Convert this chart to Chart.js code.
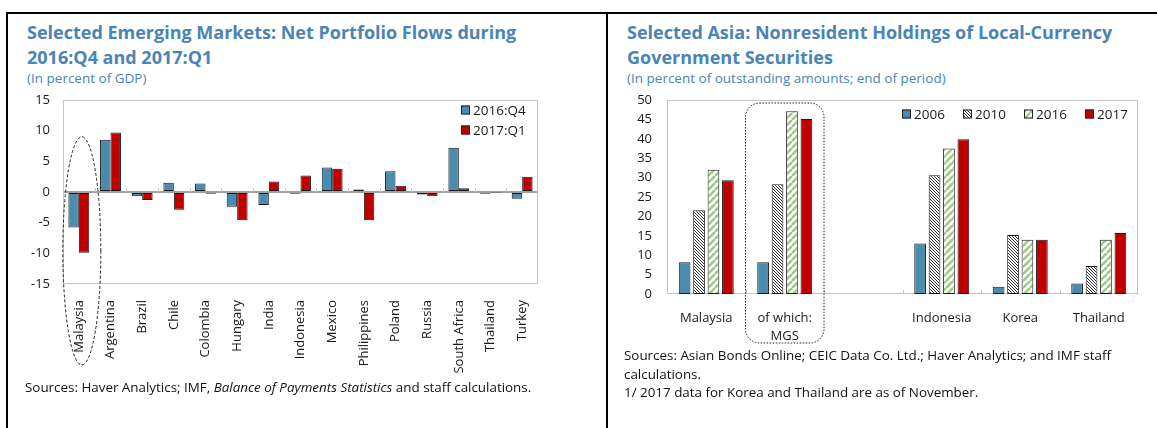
<!DOCTYPE html>
<html>
<head>
<meta charset="utf-8">
<script src="https://cdn.jsdelivr.net/npm/chart.js@4.4.1/dist/chart.umd.min.js"></script>
<style>
body { margin: 0; width: 1157px; height: 428px; background: #fff; position: relative; overflow: hidden; font-family: "Open Sans", sans-serif; }
.rule { position: absolute; background: #000; }
.title { position: absolute; color: #4a84b4; font-weight: 700; font-size: 18px; line-height: 25px; white-space: nowrap; }
.sub { position: absolute; color: #4a84b4; font-size: 13.5px; white-space: nowrap; }
.src { position: absolute; color: #111; font-size: 13.4px; line-height: 18.5px; white-space: nowrap; }
canvas { position: absolute; }
</style>
</head>
<body>
<div class="rule" style="left:6px;top:12px;width:1151px;height:2px"></div>
<div class="rule" style="left:6px;top:12px;width:2px;height:416px"></div>
<div class="rule" style="left:606px;top:12px;width:2px;height:416px"></div>

<div class="title" style="left:27px;top:20px">Selected Emerging Markets: Net Portfolio Flows during<br>2016:Q4 and 2017:Q1</div>
<div class="sub" style="left:27px;top:69px">(In percent of GDP)</div>
<canvas id="emChart" width="590" height="290" style="left:10px;top:92px"></canvas>
<div class="src" style="left:25px;top:378px">Sources: Haver Analytics; IMF, <i>Balance of Payments Statistics</i> and staff calculations.</div>

<div class="title" style="left:627px;top:20px">Selected Asia: Nonresident Holdings of Local-Currency<br>Government Securities</div>
<div class="sub" style="left:627px;top:69px">(In percent of outstanding amounts; end of period)</div>
<canvas id="asiaChart" width="540" height="262" style="left:610px;top:92px"></canvas>
<div class="src" style="left:624px;top:346px">Sources: Asian Bonds Online; CEIC Data Co. Ltd.; Haver Analytics; and IMF staff<br>calculations.<br>1/ 2017 data for Korea and Thailand are as of November.</div>

<script>
// left panel
const emCountries = ['Malaysia', 'Argentina', 'Brazil', 'Chile', 'Colombia', 'Hungary', 'India', 'Indonesia',
    'Mexico', 'Philippines', 'Poland', 'Russia', 'South Africa', 'Thailand', 'Turkey'];
const flows2016Q4 = [-5.8, 8.5, -0.7, 1.5, 1.4, -2.4, -2.1, -0.3, 4.0, 0.4, 3.4, -0.4, 7.2, -0.3, -1.1];
const flows2017Q1 = [-9.9, 9.7, -1.3, -2.9, -0.3, -4.6, 1.7, 2.7, 3.8, -4.6, 1.0, -0.7, 0.6, -0.1, 2.5];
const emTicks = [-15, -10, -5, 0, 5, 10, 15];

// right panel
const asiaCategories = ['Malaysia', ['of which:', 'MGS'], '', 'Indonesia', 'Korea', 'Thailand'];
const hold2006 = [8.2, 8.2, null, 13.0, 1.9, 2.7];
const hold2010 = [21.6, 28.3, null, 30.6, 15.2, 7.2];
const hold2016 = [32.0, 47.1, null, 37.5, 14.0, 14.0];
const hold2017 = [29.3, 45.1, null, 39.9, 14.0, 15.7];
const asiaTicks = [0, 5, 10, 15, 20, 25, 30, 35, 40, 45, 50];

const blue = '#4a8bb0';
const red = '#c00000';
const tickFont = { family: 'Open Sans', size: 13 };
const textColor = '#1a1a1a';

function hatch(fg, size, width, slash) {
    let c = document.createElement('canvas');
    c.width = size;
    c.height = size;
    let g = c.getContext('2d');
    g.fillStyle = '#fff';
    g.fillRect(0, 0, size, size);
    g.strokeStyle = fg;
    g.lineWidth = width;
    g.beginPath();
    for (let k = -1; k <= 1; k++) {
        if (slash) {
            g.moveTo(k * size, size);
            g.lineTo(k * size + size, 0);
        } else {
            g.moveTo(k * size, 0);
            g.lineTo(k * size + size, size);
        }
    }
    g.stroke();
    return g.createPattern(c, 'repeat');
}

// grey frame round the plot + small category ticks
const framePlugin = {
    id: 'frame',
    beforeDatasetsDraw(chart, args, opts) {
        const { ctx, chartArea: a, scales } = chart;
        ctx.save();
        ctx.strokeStyle = '#c4c4c4';
        ctx.lineWidth = 1;
        ctx.strokeRect(a.left + 0.5, a.top + 0.5, a.right - a.left - 1, a.bottom - a.top - 1);
        let y0 = scales.y.getPixelForValue(opts.tickAt);
        let n = chart.data.labels.length;
        ctx.beginPath();
        for (let i = 0; i < n - 1; i++) {
            let x = Math.round((scales.x.getPixelForValue(i) + scales.x.getPixelForValue(i + 1)) / 2) + 0.5;
            ctx.moveTo(x, y0);
            ctx.lineTo(x, y0 - 4);
        }
        ctx.stroke();
        ctx.restore();
    }
};

const boxLegend = {
    id: 'boxLegend',
    afterDraw(chart, args, opts) {
        const { ctx, chartArea: a } = chart;
        ctx.save();
        ctx.font = '13.5px "Open Sans"';
        ctx.textBaseline = 'middle';
        chart.data.datasets.forEach((ds, i) => {
            let x = a.right + opts.x + i * opts.dx;
            let y = a.top + opts.y + i * opts.dy;
            ctx.fillStyle = ds.backgroundColor;
            ctx.fillRect(x, y - 4.5, 9, 9);
            ctx.strokeStyle = '#222';
            ctx.lineWidth = 1;
            ctx.strokeRect(x + 0.5, y - 4, 8, 8);
            ctx.fillStyle = textColor;
            ctx.fillText(ds.label, x + 12, y + 1);
        });
        ctx.restore();
    }
};

const highlight = {
    id: 'highlight',
    afterDatasetsDraw(chart, args, opts) {
        const { ctx, chartArea: a, scales } = chart;
        let step = scales.x.getPixelForValue(1) - scales.x.getPixelForValue(0);
        let cx = scales.x.getPixelForValue(opts.index);
        ctx.save();
        ctx.strokeStyle = '#222';
        ctx.lineWidth = 1;
        ctx.setLineDash(opts.dash);
        ctx.beginPath();
        if (opts.shape === 'ellipse') {
            let top = scales.y.getPixelForValue(9);
            let bottom = a.bottom + 81;
            ctx.ellipse(cx + 3, (top + bottom) / 2, step * 0.6, (bottom - top) / 2, 0, 0, Math.PI * 2);
        } else {
            ctx.roundRect(cx - step / 2, a.top + 3, step, a.bottom + 49 - a.top - 3, 14);
        }
        ctx.stroke();
        ctx.restore();
    }
};

function barSet(label, data, color) {
    return { label: label, data: data, backgroundColor: color, borderColor: '#1a1a1a', borderWidth: 1, borderSkipped: false };
}

function fixY(width) {
    return s => {
        s.width = width;
        s.paddingTop = 0;
        s.paddingBottom = 0;
    };
}

new Chart(document.querySelector('#emChart'), {
    type: 'bar',
    data: {
        labels: emCountries,
        datasets: [
            barSet('2016:Q4', flows2016Q4, blue),
            barSet('2017:Q1', flows2017Q1, red)
        ]
    },
    options: {
        responsive: false,
        animation: false,
        categoryPercentage: 0.66,
        barPercentage: 1,
        layout: { padding: { top: 8, right: 62, left: 0, bottom: 0 } },
        plugins: {
            legend: { display: false },
            tooltip: { enabled: false },
            frame: { tickAt: 0 },
            boxLegend: { x: -77, y: 10, dx: 0, dy: 20 },
            highlight: { index: 0, shape: 'ellipse', dash: [3, 2] }
        },
        scales: {
            x: {
                grid: { display: false },
                border: { display: false },
                ticks: { minRotation: 90, maxRotation: 90, autoSkip: false, padding: 8, font: tickFont, color: textColor },
                afterFit: s => { s.height = 98; s.paddingLeft = 0; s.paddingRight = 0; }
            },
            y: {
                min: -15,
                max: 15,
                afterBuildTicks: s => { s.ticks = emTicks.map(v => ({ value: v })); },
                grid: {
                    drawTicks: false,
                    color: c => c.tick && c.tick.value === 0 ? '#a0a0a0' : 'transparent',
                    lineWidth: 2
                },
                border: { display: false },
                ticks: { padding: 13, font: tickFont, color: textColor },
                afterFit: fixY(53)
            }
        }
    },
    plugins: [framePlugin, boxLegend, highlight]
});

new Chart(document.querySelector('#asiaChart'), {
    type: 'bar',
    data: {
        labels: asiaCategories,
        datasets: [
            barSet('2006', hold2006, blue),
            barSet('2010', hold2010, hatch('#333', 3, 1, false)),
            barSet('2016', hold2016, hatch('#9cc982', 7, 2.4, true)),
            barSet('2017', hold2017, red)
        ]
    },
    options: {
        responsive: false,
        animation: false,
        categoryPercentage: 0.735,
        barPercentage: 0.81,
        layout: { padding: { top: 8, right: 12, left: 0, bottom: 0 } },
        plugins: {
            legend: { display: false },
            tooltip: { enabled: false },
            frame: { tickAt: 0 },
            boxLegend: { x: -236, y: 14, dx: 61, dy: 0 },
            highlight: { index: 1, shape: 'round', dash: [1.5, 1.5] }
        },
        scales: {
            x: {
                grid: { display: false },
                border: { display: false },
                ticks: { maxRotation: 0, autoSkip: false, padding: 7, font: { family: 'Open Sans', size: 13, lineHeight: 1.4 }, color: textColor },
                afterFit: s => { s.height = 60; s.paddingLeft = 0; s.paddingRight = 0; }
            },
            y: {
                min: 0,
                max: 50,
                afterBuildTicks: s => { s.ticks = asiaTicks.map(v => ({ value: v })); },
                grid: { display: false, drawTicks: false },
                border: { display: false },
                ticks: { padding: 15, font: tickFont, color: textColor },
                afterFit: fixY(57)
            }
        }
    },
    plugins: [framePlugin, boxLegend, highlight]
});
</script>
</body>
</html>
